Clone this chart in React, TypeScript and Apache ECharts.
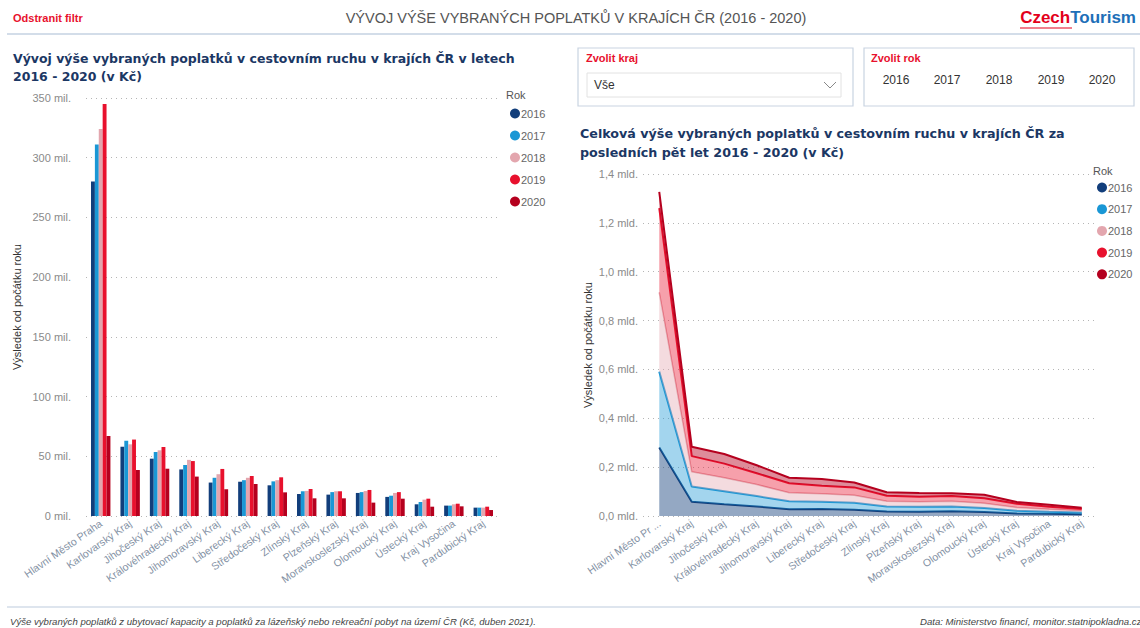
import React, { useEffect, useRef } from "react";
import * as echarts from "echarts";

const categories = [
  "Hlavní Město Praha",
  "Karlovarský Kraj",
  "Jihočeský Kraj",
  "Královéhradecký Kraj",
  "Jihomoravský Kraj",
  "Liberecký Kraj",
  "Středočeský Kraj",
  "Zlínský Kraj",
  "Plzeňský Kraj",
  "Moravskoslezský Kraj",
  "Olomoucký Kraj",
  "Ústecký Kraj",
  "Kraj Vysočina",
  "Pardubický Kraj",
];

const years = ["2016", "2017", "2018", "2019", "2020"];

// values in millions of CZK
const v2016 = [280, 58, 48, 39, 28, 28.7, 25.7, 18.4, 17.9, 19.3, 16, 9.8, 8.7, 7];
const v2017 = [311, 63, 53.6, 42.7, 32, 30, 29, 20.7, 20, 20, 17, 11.7, 8.7, 7];
const v2018 = [324, 60, 55, 47, 35, 32, 30, 21, 20.7, 20.9, 19.3, 13.7, 9.8, 7];
const v2019 = [345, 64, 57.8, 46, 39.4, 33.5, 32.4, 22.6, 20.7, 21.8, 20, 14.5, 10.3, 7.8];
const v2020 = [67, 38.5, 39.6, 33, 22.4, 26.8, 19.8, 14.8, 14.8, 11.2, 14.5, 7.8, 8.1, 5];

const seriesValues = [v2016, v2017, v2018, v2019, v2020];
const colors = ["#123e7b", "#1a97d5", "#e3a6ae", "#e8112d", "#b5001e"];
const areaOpacity = [0.45, 0.4, 0.4, 0.4, 0.45];
const lineWidths = [2, 2, 1.5, 2, 2];

const yearButtons = ["2016", "2017", "2018", "2019", "2020"];

const FONT = "'Liberation Sans', Arial, sans-serif";
const TITLE_FONT = "'DejaVu Sans', 'Liberation Sans', sans-serif";

export default function App() {
  const ref = useRef<HTMLDivElement>(null);

  useEffect(() => {
    if (!ref.current) return;
    const chart = echarts.init(ref.current, undefined, { renderer: "svg" });

    const axisLabelX = {
      rotate: 35,
      fontSize: 10.5,
      color: "#8391a4",
      fontFamily: FONT,
      margin: 6,
      interval: 0,
    };

    const option: any = {
      animation: false,
      backgroundColor: "#ffffff",
      textStyle: { fontFamily: FONT },
      grid: [
        { left: 86, right: 1140 - 498, top: 98, bottom: 628 - 516, containLabel: false },
        { left: 643, right: 1140 - 1098, top: 174, bottom: 628 - 516, containLabel: false },
      ],
      legend: [
        {
          data: years,
          orient: "vertical",
          left: 505,
          top: 103,
          icon: "circle",
          itemWidth: 10,
          itemHeight: 10,
          itemGap: 11,
          textStyle: { color: "#666", fontSize: 11, fontFamily: FONT, padding: [0, 0, 0, -4] },
          selectedMode: false,
        },
        {
          data: years,
          orient: "vertical",
          left: 1092,
          top: 177,
          icon: "circle",
          itemWidth: 10,
          itemHeight: 10,
          itemGap: 10.7,
          textStyle: { color: "#666", fontSize: 11, fontFamily: FONT, padding: [0, 0, 0, -4] },
          selectedMode: false,
        },
      ],
      xAxis: [
        {
          type: "category",
          gridIndex: 0,
          data: categories,
          axisLine: { show: false },
          axisTick: { show: false },
          axisLabel: axisLabelX,
        },
        {
          type: "category",
          gridIndex: 1,
          data: categories,
          boundaryGap: true,
          axisLine: { show: false },
          axisTick: { show: false },
          axisLabel: {
            ...axisLabelX,
            formatter: (v: string, i: number) => (i === 0 ? v.slice(0, 15) + " ..." : v),
          },
        },
      ],
      yAxis: [
        {
          type: "value",
          gridIndex: 0,
          min: 0,
          max: 350,
          interval: 50,
          name: "Výsledek od počátku roku",
          nameLocation: "middle",
          nameGap: 64,
          nameTextStyle: { color: "#333", fontSize: 11, fontFamily: FONT },
          axisLabel: {
            color: "#8a8a8a",
            fontSize: 11,
            fontFamily: FONT,
            margin: 15,
            formatter: (v: number) => `${v} mil.`,
          },
          splitLine: { lineStyle: { type: [1, 4], color: "#b5b5b5", width: 1 } },
        },
        {
          type: "value",
          gridIndex: 1,
          min: 0,
          max: 1400,
          interval: 200,
          name: "Výsledek od počátku roku",
          nameLocation: "middle",
          nameGap: 50,
          nameTextStyle: { color: "#333", fontSize: 11, fontFamily: FONT },
          axisLabel: {
            color: "#8a8a8a",
            fontSize: 11,
            fontFamily: FONT,
            margin: 5,
            formatter: (v: number) => `${(v / 1000).toFixed(1).replace(".", ",")} mld.`,
          },
          splitLine: { lineStyle: { type: [1, 4], color: "#b5b5b5", width: 1 } },
        },
      ],
      series: [
        ...years.map((y, i) => ({
          name: y,
          type: "bar",
          xAxisIndex: 0,
          yAxisIndex: 0,
          data: seriesValues[i],
          itemStyle: { color: colors[i] },
          barGap: "0%",
          barCategoryGap: "34%",
        })),
        ...years.map((y, i) => ({
          name: y,
          type: "line",
          xAxisIndex: 1,
          yAxisIndex: 1,
          stack: "total",
          data: seriesValues[i],
          symbol: "none",
          showSymbol: false,
          itemStyle: { color: colors[i] },
          lineStyle: { color: colors[i], width: lineWidths[i] },
          areaStyle: { color: colors[i], opacity: areaOpacity[i] },
          z: 2 + i,
        })),
      ],
      graphic: [
        {
          type: "text",
          x: 13,
          y: 18,
          style: {
            text: "Odstranit filtr",
            fill: "#e8112d",
            font: `bold 11px ${FONT}`,
            verticalAlign: "middle",
          },
        },
        {
          type: "text",
          x: 576,
          y: 18,
          style: {
            text: "VÝVOJ VÝŠE VYBRANÝCH POPLATKŮ V KRAJÍCH ČR (2016 - 2020)",
            fill: "#555",
            font: `14.5px ${FONT}`,
            align: "center",
            verticalAlign: "middle",
          },
        },
        {
          type: "text",
          x: 1136,
          y: 17,
          style: {
            text: "{a|Czech}{b|Tourism}",
            align: "right",
            verticalAlign: "middle",
            rich: {
              a: { fill: "#e3001b", font: `bold 17px ${FONT}` },
              b: { fill: "#1d6fb8", font: `bold 17px ${FONT}` },
            },
          },
        },
        {
          type: "line",
          shape: { x1: 1020, y1: 28, x2: 1072, y2: 28 },
          style: { stroke: "#e3001b", lineWidth: 1.2 },
        },
        {
          type: "line",
          shape: { x1: 7, y1: 34, x2: 1140, y2: 34 },
          style: { stroke: "#c5d2e2", lineWidth: 1.5 },
        },
        {
          type: "text",
          x: 13,
          y: 58,
          style: {
            text: "Vývoj výše vybraných poplatků v cestovním ruchu v krajích ČR v letech",
            fill: "#1b3764",
            font: `bold 12.5px ${TITLE_FONT}`,
            verticalAlign: "middle",
          },
        },
        {
          type: "text",
          x: 13,
          y: 76,
          style: {
            text: "2016 - 2020 (v Kč)",
            fill: "#1b3764",
            font: `bold 12.5px ${TITLE_FONT}`,
            verticalAlign: "middle",
          },
        },
        {
          type: "rect",
          shape: { x: 578, y: 48, width: 275, height: 58 },
          style: { fill: "#fff", stroke: "#c9d4e2", lineWidth: 1.2 },
        },
        {
          type: "rect",
          shape: { x: 864, y: 48, width: 270, height: 58 },
          style: { fill: "#fff", stroke: "#c9d4e2", lineWidth: 1.2 },
        },
        {
          type: "text",
          x: 586,
          y: 58,
          style: { text: "Zvolit kraj", fill: "#e8112d", font: `bold 11px ${FONT}`, verticalAlign: "middle" },
        },
        {
          type: "rect",
          shape: { x: 587, y: 73, width: 254, height: 24 },
          style: { fill: "#fff", stroke: "#e2e2e2", lineWidth: 1 },
        },
        {
          type: "text",
          x: 594,
          y: 85,
          style: { text: "Vše", fill: "#333", font: `12px ${FONT}`, verticalAlign: "middle" },
        },
        {
          type: "polyline",
          shape: { points: [[824, 82], [830, 88], [836, 82]] },
          style: { stroke: "#888", lineWidth: 1, fill: "none" },
        },
        {
          type: "text",
          x: 871,
          y: 58,
          style: { text: "Zvolit rok", fill: "#e8112d", font: `bold 11px ${FONT}`, verticalAlign: "middle" },
        },
        ...yearButtons.map((t, i) => ({
          type: "text",
          x: [896, 947, 999, 1051, 1102][i],
          y: 80,
          style: { text: t, fill: "#333", font: `12px ${FONT}`, align: "center", verticalAlign: "middle" },
        })),
        {
          type: "text",
          x: 580,
          y: 133,
          style: {
            text: "Celková výše vybraných poplatků v cestovním ruchu v krajích ČR za",
            fill: "#1b3764",
            font: `bold 12.7px ${TITLE_FONT}`,
            verticalAlign: "middle",
          },
        },
        {
          type: "text",
          x: 580,
          y: 152,
          style: {
            text: "posledních pět let 2016 - 2020 (v Kč)",
            fill: "#1b3764",
            font: `bold 12.7px ${TITLE_FONT}`,
            verticalAlign: "middle",
          },
        },
        {
          type: "text",
          x: 506,
          y: 95,
          style: { text: "Rok", fill: "#555", font: `11px ${FONT}`, verticalAlign: "middle" },
        },
        {
          type: "text",
          x: 1093,
          y: 171,
          style: { text: "Rok", fill: "#555", font: `11px ${FONT}`, verticalAlign: "middle" },
        },
        {
          type: "line",
          shape: { x1: 7, y1: 607, x2: 1140, y2: 607 },
          style: { stroke: "#d3dce8", lineWidth: 1.5 },
        },
        {
          type: "text",
          x: 10,
          y: 621,
          style: {
            text: "Výše vybraných poplatků z ubytovací kapacity a poplatků za lázeňský nebo rekreační pobyt na území ČR (Kč, duben 2021).",
            fill: "#444",
            font: `italic 9.6px ${FONT}`,
            verticalAlign: "middle",
          },
        },
        {
          type: "text",
          x: 920,
          y: 621,
          style: {
            text: "Data: Ministerstvo financí, monitor.statnipokladna.cz",
            fill: "#444",
            font: `italic 9.6px ${FONT}`,
            verticalAlign: "middle",
          },
        },
      ],
    };

    chart.setOption(option);
    return () => {
      chart.dispose();
    };
  }, []);

  return (
    <div
      ref={ref}
      style={{ position: "fixed", left: 0, top: 0, width: 1140, height: 628, background: "#fff" }}
    />
  );
}
